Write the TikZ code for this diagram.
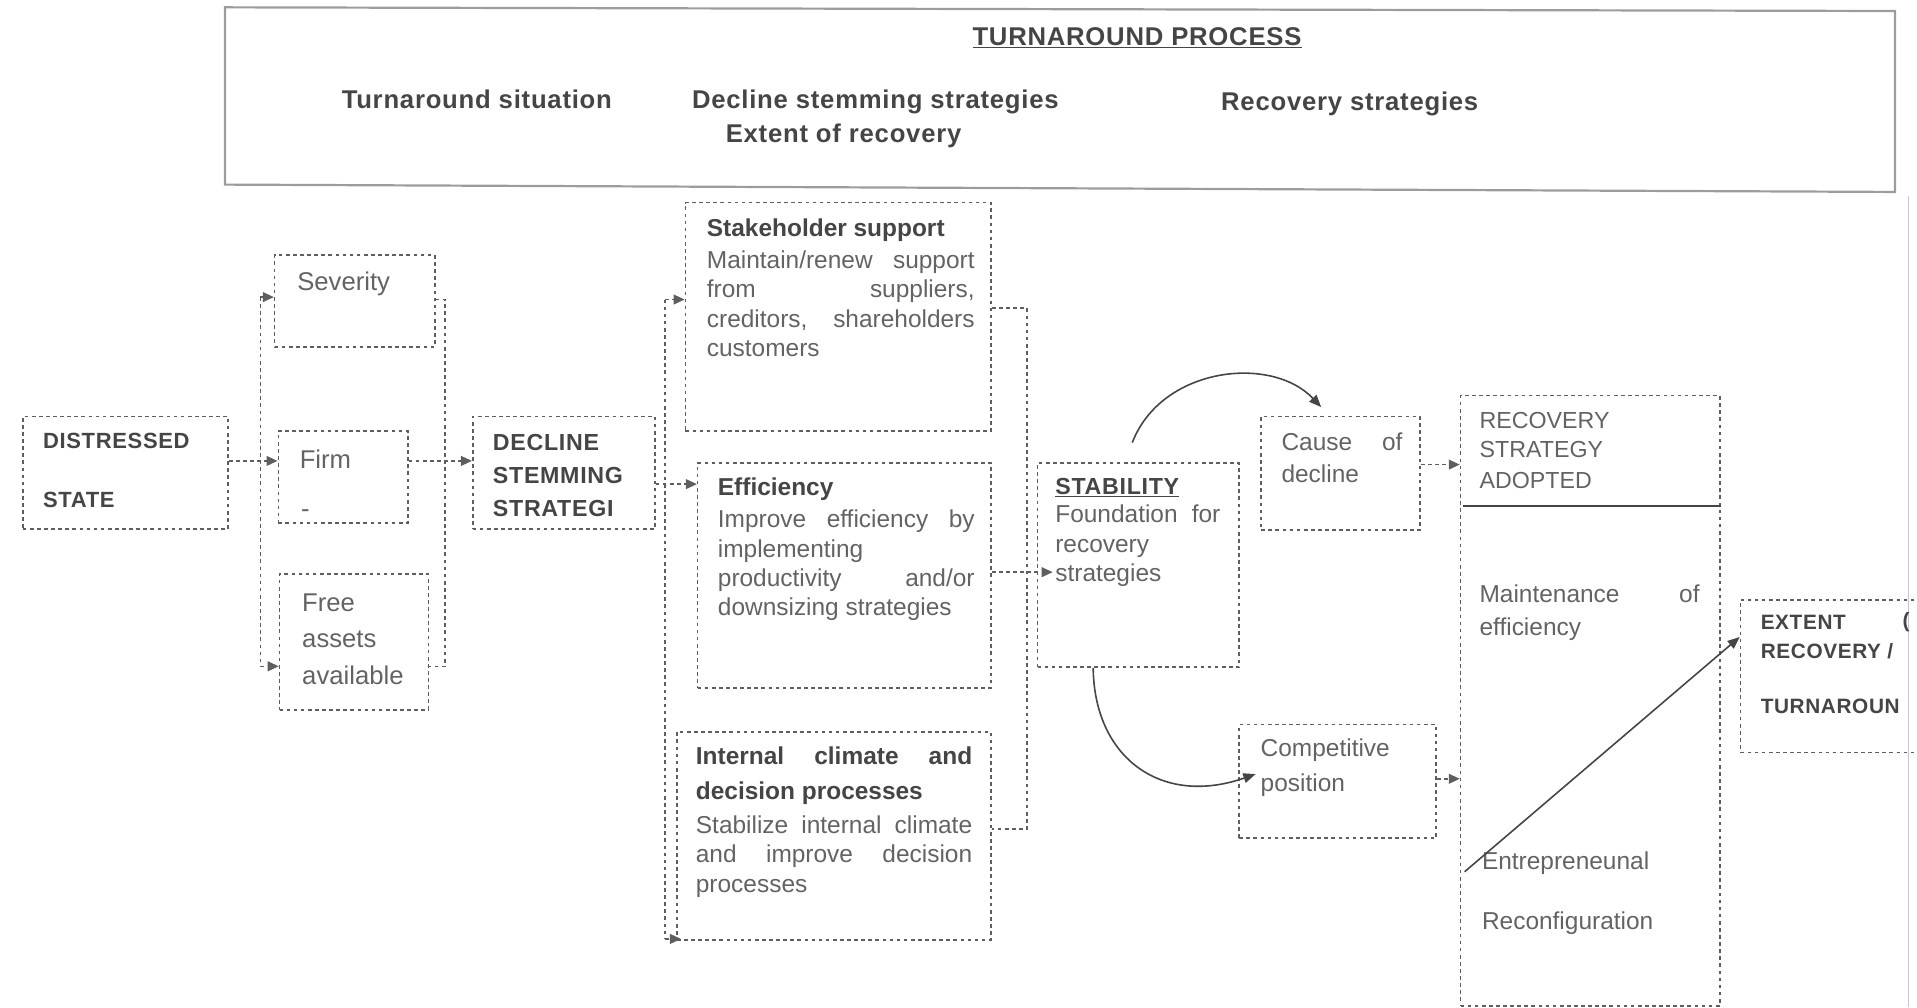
\documentclass[tikz,border=0pt]{standalone}
\usepackage{fontspec}
\setmainfont{Liberation Sans}
\newfontfamily\widefont[LetterSpace=3]{Liberation Sans}
\usetikzlibrary{arrows.meta,calc}
\definecolor{txt}{HTML}{636363}
\definecolor{dtxt}{HTML}{454545}
\definecolor{ln}{HTML}{5E5E5E}
\definecolor{frm}{HTML}{9C9C9C}
\begin{document}
\begin{tikzpicture}[x=1pt,y=-1pt,
  box/.style={draw=ln, dash pattern=on 3pt off 2.8pt, line width=1.3pt, inner sep=0pt, anchor=north west},
  conn/.style={draw=ln, dash pattern=on 3pt off 2.8pt, line width=1.3pt},
  tip/.style={-{Triangle[length=9pt,width=8pt]}},
  curve/.style={draw=dtxt, line width=1.3pt, -{Triangle[length=10pt,width=8pt]}},
  lbl/.style={anchor=west, inner sep=0pt, text=txt, font=\fontsize{20}{24}\selectfont},
  big/.style={lbl, font=\fontsize{21}{24}\selectfont},
  capl/.style={lbl, font=\fontsize{19}{24}\selectfont},
  bold/.style={lbl, text=dtxt, font=\widefont\bfseries\fontsize{18}{22}\selectfont},
  btitle/.style={lbl, text=dtxt, font=\bfseries\fontsize{20}{24}\selectfont},
  para/.style={anchor=north west, inner sep=0pt, text=txt, align=justify, font=\fontsize{20}{24}\selectfont},
  bpara/.style={para, text=dtxt, font=\bfseries\fontsize{20}{28}\selectfont},
  head/.style={inner sep=0pt, text=dtxt, font=\widefont\bfseries\fontsize{21}{24}\selectfont},
]
\useasboundingbox (0,0) rectangle (1568,824);

% banner
\draw[frm, line width=1.8pt] (184,6) -- (1550,9) -- (1550,157) -- (184,151) -- cycle;
\node[head] (hTP) at (930,31) {\underline{TURNAROUND PROCESS}};
\node[head] (hTS) at (390,81) {Turnaround situation};
\node[head] (hDS) at (716,83) {Decline stemming strategies};
\node[head] (hEX) at (690,111) {Extent of recovery};
\node[head] (hRS) at (1104,85) {Recovery strategies};

% page edge
\draw[gray!45, line width=1.5pt] (1561,160) -- (1561,824);

% boxes
\node[box, minimum width=168, minimum height=92] (dist) at (18,340) {};
\node[box, minimum width=131, minimum height=75] (sev) at (224,208) {};
\node[box, minimum width=106, minimum height=75] (firm) at (227,352) {};
\node[box, minimum width=122, minimum height=111] (free) at (228,469) {};
\node[box, minimum width=149, minimum height=92] (dec) at (386,340) {};
\node[box, minimum width=250, minimum height=187] (stake) at (560,165) {};
\node[box, minimum width=240, minimum height=184] (eff) at (570,378) {};
\node[box, minimum width=257, minimum height=170] (intc) at (553,598) {};
\node[box, minimum width=165, minimum height=167] (stab) at (848,378) {};
\node[box, minimum width=130, minimum height=93] (cause) at (1031,340) {};
\node[box, minimum width=161, minimum height=93] (comp) at (1013,592) {};
\node[box, minimum width=212, minimum height=499] (rec) at (1194,323) {};
\node[box, minimum width=200, minimum height=125] (ext) at (1423,490) {};

% texts
\node[bold] (tD1) at (35,361) {DISTRESSED};
\node[bold] (tD2) at (35,409) {STATE};
\node[big] (tSev) at (243,232) {Severity};
\node[big] (tFirm) at (245,376) {Firm};
\node[big] (tDash) at (246,420) {-};
\node[big] (tFr1) at (247,493) {Free};
\node[big] (tFr2) at (247,523) {assets};
\node[big] (tFr3) at (247,552) {available};
\node[bold, font=\widefont\bfseries\fontsize{19}{22}\selectfont] (tDc1) at (403,362) {DECLINE};
\node[bold, font=\widefont\bfseries\fontsize{19}{22}\selectfont] (tDc2) at (403,389) {STEMMING};
\node[bold, font=\widefont\bfseries\fontsize{19}{22}\selectfont] (tDc3) at (403,416) {STRATEGI};

\node[btitle] (tSk) at (578,188) {Stakeholder support};
\node[para, text width=219] (tSkB) at (578,205) {Maintain/renew support\linebreak from suppliers,\linebreak creditors, shareholders\linebreak customers};

\node[btitle] (tEf) at (587,400) {Efficiency};
\node[para, text width=210] (tEfB) at (587,417) {Improve efficiency by\linebreak implementing\newline productivity and/or\linebreak downsizing strategies};

\node[bpara, text width=226] (tIc) at (569,611) {Internal climate and\linebreak decision processes};
\node[para, text width=226] (tIcB) at (569,667) {Stabilize internal climate\linebreak and improve decision\linebreak processes};

\node[bold, font=\widefont\bfseries\fontsize{19}{22}\selectfont] (tSt) at (863,399) {\underline{STABILITY}};
\node[para, text width=135] (tStB) at (863,413) {Foundation for\linebreak recovery\newline strategies};

\node[para, text width=99, font=\fontsize{20}{26}\selectfont] (tCa) at (1048,354) {Cause of\linebreak decline};
\node[lbl] (tCo1) at (1031,614) {Competitive};
\node[lbl] (tCo2) at (1031,642) {position};

\node[capl] (tR1) at (1210,344) {RECOVERY};
\node[capl] (tR2) at (1210,368) {STRATEGY};
\node[capl] (tR3) at (1210,393) {ADOPTED};
\node[para, text width=180, font=\fontsize{20}{27}\selectfont] (tMa) at (1210,478) {Maintenance of\linebreak efficiency};
\node[lbl] (tEn) at (1212,706) {Entrepreneunal};
\node[lbl] (tRc) at (1212,755) {Reconfiguration};

\node[bold, font=\widefont\bfseries\fontsize{17}{22}\selectfont] (tE1) at (1440,509) {EXTENT};
\node[bold, font=\widefont\bfseries\fontsize{17}{22}\selectfont] (tE1b) at (1556,509) {(};
\node[bold, font=\widefont\bfseries\fontsize{17}{22}\selectfont] (tE2) at (1440,533) {RECOVERY /};
\node[bold, font=\widefont\bfseries\fontsize{17}{22}\selectfont] (tE3) at (1440,578) {TURNAROUN};

% helper levels
\coordinate (yA) at (0,377);
\coordinate (yB) at (0,396);
\coordinate (yC) at (0,468);
\coordinate (yD) at (0,713);
\coordinate (yE) at (0,521);
\coordinate (yF) at (0,414);
\coordinate (yG) at (0,380);
\coordinate (yH) at (0,637);

% left bracket
\coordinate (L1) at (213,243);
\coordinate (L2) at (213,545);
\draw[conn] (L1) -- (L2);
\draw[conn,tip] (L1) -- (L1 -| sev.west);
\draw[conn,tip] (L2) -- (L2 -| free.west);
\draw[conn,tip] (dist.east |- yA) -- (firm.west |- yA);

% right bracket
\coordinate (R1) at (364,245);
\coordinate (R2) at (364,545);
\draw[conn] (sev.east |- R1) -- (R1) -- (R2) -- (free.east |- R2);
\draw[conn,tip] (firm.east |- yA) -- (dec.west |- yA);

% middle bracket
\coordinate (M1) at (544,245);
\coordinate (M2) at (544,768);
\draw[conn] (M1) -- (M2);
\draw[conn,tip] (M1) -- (M1 -| stake.west);
\draw[conn,tip] (dec.east |- yB) -- (eff.west |- yB);
\draw[conn,tip] (M2) -- ([xshift=4pt]M2 -| intc.west);

% right middle bracket
\coordinate (N1) at (840,252);
\coordinate (N2) at (840,678);
\draw[conn] (stake.east |- N1) -- (N1) -- (N2) -- (intc.east |- N2);
\draw[conn,tip] (eff.east |- yC) -- ([xshift=13pt]stab.west |- yC);

% curved arrows
\coordinate (c1s) at ($(stab.north)+(-5,-16)$);
\draw[curve] (c1s) .. controls (950,300) and (1040,290) .. ([xshift=-16pt,yshift=7pt]cause.north);
\draw[curve] ([xshift=-37pt]stab.south) .. controls (895,620) and (950,660) .. ([xshift=14pt,yshift=6pt]comp.west);

% to recovery
\draw[conn,tip] (cause.east |- yG) -- (rec.west |- yG);
\draw[conn,tip] (comp.east |- yH) -- (rec.west |- yH);
\draw[dtxt, line width=1.4pt] ([xshift=3pt]rec.west |- yF) -- (rec.east |- yF);
\draw[curve] ([xshift=4pt]rec.west |- yD) -- (ext.west |- yE);
\end{tikzpicture}
\end{document}
